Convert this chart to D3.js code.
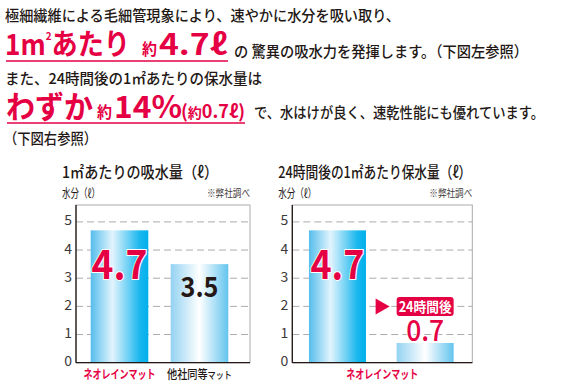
<!DOCTYPE html>
<html>
<head>
<meta charset="utf-8">
<script src="https://cdn.jsdelivr.net/npm/d3@7"></script>
<style>
  body { margin: 0; background: #fff; }
  text { font-family: 'Noto Sans CJK JP', 'Noto Sans', sans-serif; }
</style>
</head>
<body>
<div id="vis"></div>
<script>
// values
var yTicks = [0, 1, 2, 3, 4, 5];
var absorbCats = ["ネオレインマット", "他社同等マット"];
var absorbVals = [4.7, 3.5];
var retainCats = ["ネオレインマット", "24時間後"];
var retainVals = [4.7, 0.7];

var red = "#e50044", ink = "#231815", grid = "#ababab";

var svg = d3.select("#vis").append("svg")
  .attr("width", 565)
  .attr("height", 385);

// gradients for the bars
var defs = svg.append("defs");
function gradient(id, stops) {
  var g = defs.append("linearGradient").attr("id", id)
    .attr("x1", "0%").attr("x2", "100%").attr("y1", "0%").attr("y2", "0%");
  stops.forEach(function (s) {
    g.append("stop").attr("offset", s[0]).attr("stop-color", s[1]);
  });
}
gradient("strong", [["0%", "#55bdec"], ["38%", "#e2f4fd"], ["85%", "#1ab7ee"], ["100%", "#00b0ec"]]);
gradient("light", [["0%", "#93d2f2"], ["50%", "#ffffff"], ["100%", "#63c4ee"]]);

// small helper for text
function txt(x, y, s, size, o) {
  o = o || {};
  var t = svg.append("text")
    .attr("x", x).attr("y", y)
    .attr("font-size", size)
    .attr("fill", o.fill || ink)
    .attr("font-weight", o.weight || 500)
    .attr("text-anchor", o.anchor || "start")
    .text(s);
  if (o.len) t.attr("textLength", o.len).attr("lengthAdjust", "spacingAndGlyphs");
  return t;
}

// ---- heading text ----
txt(5, 21, "極細繊維による毛細管現象により、速やかに水分を吸い取り、", 15, { len: 395 });

var t2 = svg.append("text").attr("x", 5).attr("y", 55)
  .attr("fill", red).attr("font-weight", 700).attr("font-size", 29)
  .attr("textLength", 125).attr("lengthAdjust", "spacingAndGlyphs");
t2.append("tspan").text("1m");
t2.append("tspan").attr("font-size", 11).attr("dy", -15).text("2");
t2.append("tspan").attr("dy", 15).text("あたり");
txt(142, 55, "約", 16, { fill: red, weight: 700, len: 15 });
txt(159, 55, "4.7ℓ", 29, { fill: red, weight: 700, len: 68 });
svg.append("line").attr("x1", 6).attr("x2", 228).attr("y1", 61).attr("y2", 61)
  .attr("stroke", red).attr("stroke-width", 1.5);
txt(234, 57, "の 驚異の吸水力を発揮します。（下図左参照）", 15, { len: 294 });

txt(5, 84, "また、24時間後の1㎡あたりの保水量は", 15, { len: 257 });

txt(6, 118, "わずか", 31, { fill: red, weight: 700, len: 87 });
txt(97, 118, "約", 16, { fill: red, weight: 700, len: 15 });
txt(114, 118, "14%", 31, { fill: red, weight: 700, len: 68 });
var t4 = svg.append("text").attr("x", 181).attr("y", 118)
  .attr("fill", red).attr("font-weight", 700).attr("font-size", 18)
  .attr("textLength", 64).attr("lengthAdjust", "spacingAndGlyphs");
t4.append("tspan").text("(");
t4.append("tspan").attr("font-size", 14).text("約");
t4.append("tspan").text("0.7ℓ)");
svg.append("line").attr("x1", 7).attr("x2", 245).attr("y1", 123).attr("y2", 123)
  .attr("stroke", red).attr("stroke-width", 1.5);
txt(254, 118, "で、水はけが良く、速乾性能にも優れています。", 15, { len: 290 });

txt(4, 144, "（下図右参照）", 15, { len: 93 });

// ---- charts ----
var y = d3.scaleLinear().domain([0, 5.6]).range([362.7, 205]);

function drawChart(o) {
  var g = svg.append("g");
  var x = d3.scaleBand().domain(o.cats).range([o.x0, o.bandEnd])
    .paddingInner(o.padIn).paddingOuter(o.padOut);

  txt(o.x0 - 14, 178, o.title, 16, { len: o.titleLen });
  txt(o.x0 - 14, 198, "水分（ℓ）", 12, { len: 38, weight: 400 });
  txt(o.x1, 197, "※弊社調べ", 10, { anchor: "end", len: 43, fill: "#3e3a39", weight: 400 });

  // frame
  g.append("rect").attr("x", o.x0).attr("y", y.range()[1])
    .attr("width", o.x1 - o.x0).attr("height", y.range()[0] - y.range()[1])
    .attr("fill", "none").attr("stroke", grid).attr("stroke-width", 1);

  // dashed grid
  g.selectAll(".grid").data(yTicks.slice(1)).enter().append("line")
    .attr("x1", o.x0).attr("x2", o.x1)
    .attr("y1", function (d) { return y(d); })
    .attr("y2", function (d) { return y(d); })
    .attr("stroke", grid).attr("stroke-dasharray", "7,4");

  // bars
  g.selectAll(".bar").data(o.vals).enter().append("rect")
    .attr("x", function (d, i) { return x(o.cats[i]); })
    .attr("y", function (d) { return y(d); })
    .attr("width", x.bandwidth())
    .attr("height", function (d) { return y(0) - y(d); })
    .attr("fill", function (d, i) { return "url(#" + o.fills[i] + ")"; });

  // axes lines
  g.append("line").attr("x1", o.x0).attr("x2", o.x0)
    .attr("y1", y.range()[1]).attr("y2", y(0)).attr("stroke", ink).attr("stroke-width", 1.3);
  g.append("line").attr("x1", o.x0).attr("x2", o.x1)
    .attr("y1", y(0)).attr("y2", y(0)).attr("stroke", ink).attr("stroke-width", 1.3);

  // y tick labels
  g.selectAll(".tick").data(yTicks).enter().append("text")
    .attr("x", o.x0 - 4)
    .attr("y", function (d) { return y(d) - 1.5; })
    .attr("dy", "0.36em")
    .attr("text-anchor", "end")
    .attr("font-size", 14)
    .attr("fill", "#3e3a39")
    .text(function (d) { return d; });

  return x;
}

// left chart
var xa = drawChart({
  x0: 76, x1: 250, bandEnd: 243, padIn: 0.28, padOut: 0.184,
  title: "1㎡あたりの吸水量（ℓ）", titleLen: 156,
  cats: absorbCats, vals: absorbVals, fills: ["strong", "light"]
});
txt(xa(absorbCats[0]) + xa.bandwidth() / 2, 379, absorbCats[0], 12,
  { anchor: "middle", fill: red, weight: 700, len: 72 });
var lb = txt(xa(absorbCats[1]) + xa.bandwidth() / 2, 379, "", 12.5, { anchor: "middle", len: 65 });
lb.append("tspan").text("他社同等");
lb.append("tspan").attr("font-size", 10).text("マット");

// value labels, left
txt(xa(absorbCats[0]) + xa.bandwidth() / 2, y(3) + 0.3, absorbVals[0], 40,
  { anchor: "middle", fill: red, weight: 700, len: 56 })
  .attr("stroke", "#fff").attr("stroke-width", 2).attr("paint-order", "stroke");
txt(xa(absorbCats[1]) + xa.bandwidth() / 2, y(2.3) - 0.5, absorbVals[1], 28,
  { anchor: "middle", weight: 700, len: 38 });

// right chart
var xb = drawChart({
  x0: 292.3, x1: 472.3, bandEnd: 470.3, padIn: 0.35, padOut: 0.19,
  title: "24時間後の1㎡あたり保水量（ℓ）", titleLen: 193,
  cats: retainCats, vals: retainVals, fills: ["strong", "light"]
});
txt((292.3 + 472.3) / 2, 379, retainCats[0], 12,
  { anchor: "middle", fill: red, weight: 700, len: 72 });

txt(xb(retainCats[0]) + xb.bandwidth() / 2, y(3) + 0.3, retainVals[0], 40,
  { anchor: "middle", fill: red, weight: 700, len: 54 })
  .attr("stroke", "#fff").attr("stroke-width", 2).attr("paint-order", "stroke");
var cx = xb(retainCats[1]) + xb.bandwidth() / 2;
txt(cx, y(retainVals[1]) - 2, retainVals[1], 29,
  { anchor: "middle", fill: red, weight: 500, len: 38 })
  .attr("stroke", "#fff").attr("stroke-width", 1.5).attr("paint-order", "stroke");

// badge "24時間後"
var by = y(retainVals[1]) - 46;
svg.append("rect").attr("x", xb(retainCats[1])).attr("y", by)
  .attr("width", xb.bandwidth()).attr("height", 19).attr("rx", 3)
  .attr("fill", red);
txt(cx, by + 15, retainCats[1], 14, { anchor: "middle", fill: "#fff", weight: 700, len: 53 });
var tx = xb(retainCats[1]) - 21;
svg.append("path")
  .attr("d", "M" + tx + "," + (by + 1.5) + "L" + (tx + 14) + "," + (by + 9.5) + "L" + tx + "," + (by + 17.5) + "Z")
  .attr("fill", red);
</script>
</body>
</html>
